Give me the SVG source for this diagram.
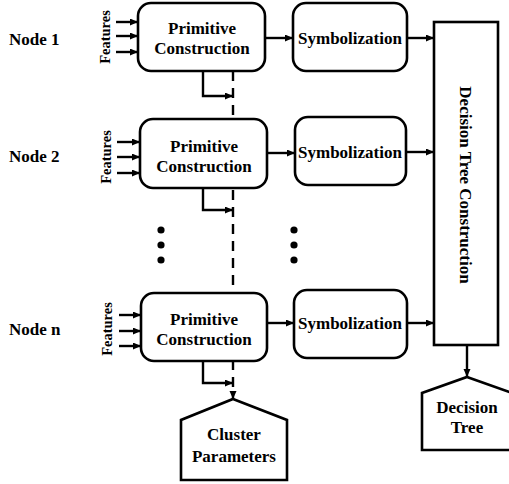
<svg xmlns="http://www.w3.org/2000/svg" width="509" height="484" viewBox="0 0 509 484">
<defs>
<marker id="ah" markerUnits="userSpaceOnUse" markerWidth="9" markerHeight="8" refX="8" refY="3.5" orient="auto">
<path d="M0,0 L8,3.5 L0,7 z" fill="#000"/>
</marker>
<style>
.box{fill:#fff;stroke:#000;stroke-width:2.6}
.ln{fill:none;stroke:#000;stroke-width:2.4}
.ar{fill:none;stroke:#000;stroke-width:2.4;marker-end:url(#ah)}
.t{font-family:"Liberation Serif","Times New Roman",serif;font-weight:bold;font-size:17px;fill:#000;text-anchor:middle}
.nl{font-family:"Liberation Serif","Times New Roman",serif;font-weight:bold;font-size:17px;fill:#000}
.ft{font-family:"Liberation Serif","Times New Roman",serif;font-weight:bold;font-size:14.5px;fill:#000;text-anchor:middle}
</style>
</defs>
<rect width="509" height="484" fill="#fff"/>
<g id="labels">
<text class="nl" x="9" y="45">Node 1</text>
<text class="nl" x="9" y="162">Node 2</text>
<text class="nl" x="9" y="335">Node n</text>
<text class="ft" transform="translate(110,37) rotate(-90)">Features</text>
<text class="ft" transform="translate(111,157) rotate(-90)">Features</text>
<text class="ft" transform="translate(112,329) rotate(-90)">Features</text>
<circle cx="161" cy="230" r="3.6"/><circle cx="161" cy="245" r="3.6"/><circle cx="161" cy="260" r="3.6"/>
<circle cx="294" cy="230" r="3.6"/><circle cx="294" cy="245" r="3.6"/><circle cx="294" cy="260" r="3.6"/>
</g>
<g id="connectors">
<line class="ar" x1="116" y1="22" x2="138" y2="22"/>
<line class="ar" x1="116" y1="36" x2="138" y2="36"/>
<line class="ar" x1="116" y1="52" x2="138" y2="52"/>
<line class="ar" x1="117" y1="142" x2="140" y2="142"/>
<line class="ar" x1="117" y1="157" x2="140" y2="157"/>
<line class="ar" x1="117" y1="173" x2="140" y2="173"/>
<line class="ar" x1="119" y1="315" x2="141" y2="315"/>
<line class="ar" x1="119" y1="331" x2="141" y2="331"/>
<line class="ar" x1="119" y1="346" x2="141" y2="346"/>
<line class="ar" x1="265" y1="38" x2="293" y2="38"/>
<line class="ar" x1="267" y1="153" x2="295" y2="153"/>
<line class="ar" x1="267" y1="323" x2="294" y2="323"/>
<line class="ar" x1="407" y1="38" x2="434" y2="38"/>
<line class="ar" x1="406" y1="152" x2="434" y2="152"/>
<line class="ar" x1="407" y1="323" x2="434" y2="323"/>
<polyline class="ar" points="203,71 203,96 233,96"/>
<polyline class="ar" points="203,188 203,210 233,210"/>
<polyline class="ar" points="203,361 203,383 233,383"/>
<line class="ar" x1="233" y1="71" x2="233" y2="399" stroke-dasharray="10,7" stroke-width="3"/>
<line class="ar" x1="467" y1="345" x2="467" y2="377"/>
</g>
<g id="pc1"><rect class="box" x="138" y="3" width="127" height="68" rx="13"/>
<text class="t" x="202" y="34">Primitive</text><text class="t" x="202" y="54">Construction</text></g>
<g id="pc2"><rect class="box" x="140" y="119" width="127" height="69" rx="13"/>
<text class="t" x="204" y="152">Primitive</text><text class="t" x="204" y="172">Construction</text></g>
<g id="pcn"><rect class="box" x="141" y="293" width="126" height="68" rx="13"/>
<text class="t" x="204" y="325">Primitive</text><text class="t" x="204" y="345">Construction</text></g>
<g id="sy1"><rect class="box" x="293" y="3" width="114" height="68" rx="13"/>
<text class="t" x="350" y="44">Symbolization</text></g>
<g id="sy2"><rect class="box" x="295" y="117" width="111" height="68" rx="13"/>
<text class="t" x="350" y="158">Symbolization</text></g>
<g id="syn"><rect class="box" x="294" y="290" width="113" height="68" rx="13"/>
<text class="t" x="350" y="329">Symbolization</text></g>
<g id="dtc"><rect class="box" x="434" y="22" width="64" height="323"/>
<text class="t" transform="translate(460,185) rotate(90)">Decision Tree Construction</text></g>
<g id="cp"><polygon class="box" points="233,399 287,420 287,480 181,480 181,420"/>
<text class="t" x="234" y="440">Cluster</text><text class="t" x="234" y="462">Parameters</text></g>
<g id="dt"><polygon class="box" points="467,377 512,393 512,450 422,450 422,393"/>
<text class="t" x="467" y="413">Decision</text><text class="t" x="467" y="433">Tree</text></g>
</svg>
